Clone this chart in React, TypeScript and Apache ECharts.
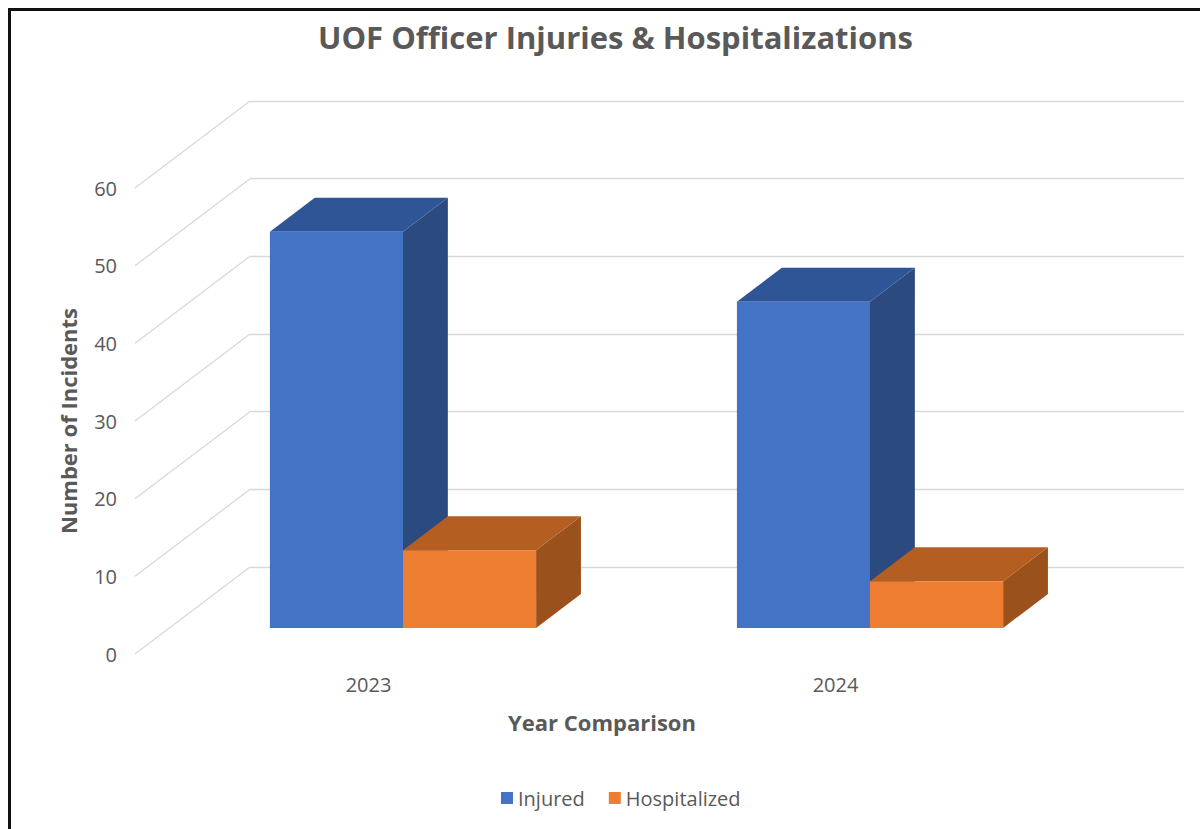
import React, { useEffect, useRef } from "react";
import * as echarts from "echarts";

const categories = ["2023", "2024"];
const injured = [51, 42];
const hospitalized = [10, 6];
const yTicks = [0, 10, 20, 30, 40, 50, 60];

const FRONT = { left: 135, right: 131, top: 188, bottom: 175 };
const DX = 115;
const DY = 87;
const F1 = 0.3;
const F2 = 0.69;
const BAR_FRAC = 0.285;
const GRID_COLOR = "#d9d9d9";
const TEXT_COLOR = "#595959";
const FONT = "Open Sans";

const blue = { front: "#4472C4", top: "#2F5597", side: "#2A4A80" };
const orange = { front: "#ED7D31", top: "#B55E22", side: "#9A511C" };

function barRenderer(side: number, colors: { front: string; top: string; side: string }) {
  return (params: any, api: any) => {
    const cat = api.value(0);
    const val = api.value(1);
    const band = api.size([1, 0])[0];
    const w = band * BAR_FRAC;
    const cx = api.coord([cat, 0])[0];
    const x0 = side === 0 ? cx - w : cx;
    const x1 = x0 + w;
    const yTop = api.coord([cat, val])[1];
    const yBot = api.coord([cat, 0])[1];
    const ax = DX * F1, ay = -DY * F1, bx = DX * F2, by = -DY * F2;
    return {
      type: "group",
      children: [
        {
          type: "polygon",
          shape: { points: [[x1 + ax, yTop + ay], [x1 + bx, yTop + by], [x1 + bx, yBot + by], [x1 + ax, yBot + ay]] },
          style: { fill: colors.side },
        },
        {
          type: "polygon",
          shape: { points: [[x0 + ax, yTop + ay], [x1 + ax, yTop + ay], [x1 + bx, yTop + by], [x0 + bx, yTop + by]] },
          style: { fill: colors.top },
        },
        {
          type: "rect",
          shape: { x: x0 + ax, y: yTop + ay, width: w, height: yBot - yTop },
          style: { fill: colors.front },
        },
      ],
    };
  };
}

export default function App() {
  const ref = useRef<HTMLDivElement>(null);
  useEffect(() => {
    if (!ref.current) return;
    const chart = echarts.init(ref.current, null, { renderer: "svg" });
    const option: any = {
      animation: false,
      backgroundColor: "#ffffff",
      textStyle: { fontFamily: FONT },
      title: {
        text: "UOF Officer Injuries & Hospitalizations",
        left: 313,
        top: 16,
        padding: 5,
        textStyle: { fontFamily: FONT, fontWeight: "bold", fontSize: 31, color: TEXT_COLOR },
      },
      legend: {
        data: ["Injured", "Hospitalized"],
        left: 496,
        top: 783,
        icon: "rect",
        itemWidth: 12,
        itemHeight: 12,
        itemGap: 24,
        textStyle: { fontFamily: FONT, fontSize: 20, color: TEXT_COLOR },
      },
      graphic: [
        { type: "rect", shape: { x: 8, y: 8, width: 3, height: 821 }, style: { fill: "#111" } },
        { type: "rect", shape: { x: 8, y: 8, width: 1192, height: 3 }, style: { fill: "#111" } },
      ],
      grid: [
        { left: FRONT.left, right: FRONT.right, top: FRONT.top, bottom: FRONT.bottom },
        { left: FRONT.left + DX, right: FRONT.right - DX, top: FRONT.top - DY, bottom: FRONT.bottom + DY },
      ],
      xAxis: [
        {
          gridIndex: 0,
          type: "category",
          data: categories,
          axisLine: { show: false },
          axisTick: { show: false },
          axisLabel: { fontSize: 20, color: TEXT_COLOR, margin: 20, fontFamily: FONT },
          name: "Year Comparison",
          nameLocation: "middle",
          nameGap: 57,
          nameTextStyle: { fontSize: 22, fontWeight: "bold", color: TEXT_COLOR, fontFamily: FONT },
        },
        { gridIndex: 1, type: "category", data: categories, show: false },
      ],
      yAxis: [
        {
          gridIndex: 0,
          type: "value",
          min: 0,
          max: 60,
          interval: 10,
          splitLine: { show: false },
          axisLine: { show: false },
          axisTick: { show: false },
          axisLabel: { fontSize: 20, color: TEXT_COLOR, margin: 18, fontFamily: FONT },
          name: "Number of Incidents",
          nameLocation: "middle",
          nameGap: 56,
          nameTextStyle: { fontSize: 22, fontWeight: "bold", color: TEXT_COLOR, fontFamily: FONT },
        },
        {
          gridIndex: 1,
          type: "value",
          min: 0,
          max: 60,
          interval: 10,
          axisLabel: { show: false },
          axisLine: { show: false },
          axisTick: { show: false },
          splitLine: { show: true, lineStyle: { color: GRID_COLOR, width: 1.3 } },
        },
      ],
      series: [
        {
          type: "custom",
          name: "walls",
          xAxisIndex: 0,
          yAxisIndex: 0,
          silent: true,
          z: 1,
          data: yTicks.map((v) => [0, v]),
          encode: { x: 0, y: 1 },
          renderItem: (params: any, api: any) => {
            const y = api.coord([0, api.value(1)])[1];
            const x = params.coordSys.x;
            return {
              type: "line",
              shape: { x1: x, y1: y, x2: x + DX, y2: y - DY },
              style: { stroke: GRID_COLOR, lineWidth: 1.3 },
            };
          },
        },
        {
          type: "custom",
          name: "Injured",
          xAxisIndex: 0,
          yAxisIndex: 0,
          z: 2,
          itemStyle: { color: blue.front },
          data: injured.map((v, i) => [i, v]),
          encode: { x: 0, y: 1 },
          renderItem: barRenderer(0, blue),
        },
        {
          type: "custom",
          name: "Hospitalized",
          xAxisIndex: 0,
          yAxisIndex: 0,
          z: 3,
          itemStyle: { color: orange.front },
          data: hospitalized.map((v, i) => [i, v]),
          encode: { x: 0, y: 1 },
          renderItem: barRenderer(1, orange),
        },
      ],
    };
    chart.setOption(option);
    return () => chart.dispose();
  }, []);
  return (
    <div
      ref={ref}
      style={{ position: "absolute", left: 0, top: 0, width: 1200, height: 829 }}
    />
  );
}
